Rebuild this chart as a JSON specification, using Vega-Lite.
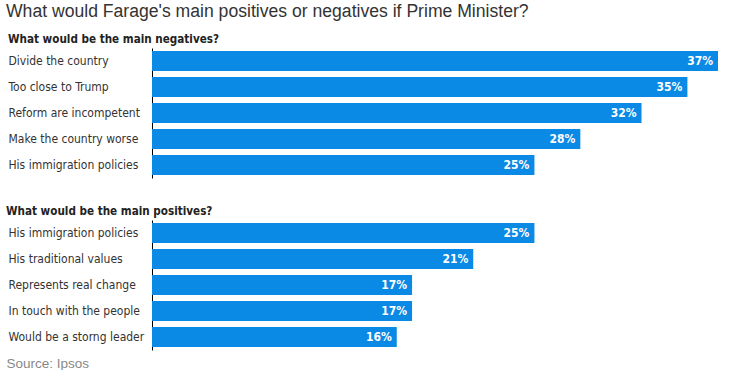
{
  "$schema": "https://vega.github.io/schema/vega-lite/v6.json",
  "padding": {"left": 6, "top": 2, "right": 0, "bottom": 0},
  "background": "white",
  "title": {
    "text": "What would Farage's main positives or negatives if Prime Minister?",
    "anchor": "start",
    "fontSize": 17.6,
    "font": "Liberation Sans",
    "fontWeight": "normal",
    "color": "#333333",
    "offset": 14
  },
  "data": {
    "values": [
      {"group": "neg", "label": "Divide the country", "value": 0.37},
      {"group": "neg", "label": "Too close to Trump", "value": 0.35},
      {"group": "neg", "label": "Reform are incompetent", "value": 0.32},
      {"group": "neg", "label": "Make the country worse", "value": 0.28},
      {"group": "neg", "label": "His immigration policies", "value": 0.25},
      {"group": "pos", "label": "His immigration policies", "value": 0.25},
      {"group": "pos", "label": "His traditional values", "value": 0.21},
      {"group": "pos", "label": "Represents real change", "value": 0.17},
      {"group": "pos", "label": "In touch with the people", "value": 0.17},
      {"group": "pos", "label": "Would be a storng leader", "value": 0.16}
    ]
  },
  "spacing": 28,
  "vconcat": [
    {
      "title": {"text": "What would be the main negatives?"},
      "transform": [{"filter": "datum.group == 'neg'"}],
      "width": 566,
      "height": {"step": 26},
      "encoding": {
        "y": {
          "field": "label", "type": "nominal", "sort": null,
          "scale": {"paddingInner": 0.23, "paddingOuter": 0.115},
          "axis": {"title": null}
        },
        "x": {
          "field": "value", "type": "quantitative",
          "scale": {"domain": [0, 0.37], "nice": false},
          "axis": null
        }
      },
      "layer": [
        {"mark": {"type": "bar", "color": "#0a89e5"}},
        {
          "mark": {"type": "text", "align": "right", "dx": -5, "color": "white", "fontWeight": "bold", "font": "DejaVu Sans Condensed, Roboto", "fontSize": 12},
          "encoding": {"text": {"field": "value", "type": "quantitative", "format": ".0%"}}
        }
      ]
    },
    {
      "title": {"text": "What would be the main positives?"},
      "transform": [{"filter": "datum.group == 'pos'"}],
      "width": 566,
      "height": {"step": 26},
      "encoding": {
        "y": {
          "field": "label", "type": "nominal", "sort": null,
          "scale": {"paddingInner": 0.23, "paddingOuter": 0.115},
          "axis": {"title": null}
        },
        "x": {
          "field": "value", "type": "quantitative",
          "scale": {"domain": [0, 0.37], "nice": false},
          "axis": {
            "title": "Source: Ipsos",
            "labels": false, "ticks": false, "domain": false, "grid": false,
            "titleAnchor": "start", "titleAlign": "left", "titleX": -146, "titleY": 17,
            "titleBaseline": "alphabetic",
            "titleFont": "Liberation Sans", "titleFontSize": 13.5, "titleFontWeight": "normal", "titleColor": "#888888"
          }
        }
      },
      "layer": [
        {"mark": {"type": "bar", "color": "#0a89e5"}},
        {
          "mark": {"type": "text", "align": "right", "dx": -5, "color": "white", "fontWeight": "bold", "font": "DejaVu Sans Condensed, Roboto", "fontSize": 12},
          "encoding": {"text": {"field": "value", "type": "quantitative", "format": ".0%"}}
        }
      ]
    }
  ],
  "config": {
    "view": {"stroke": null},
    "axisY": {
      "domain": true, "domainColor": "#000000", "domainWidth": 1,
      "ticks": false, "grid": false,
      "labelAlign": "left", "labelPadding": 144, "labelLimit": 200,
      "labelFont": "DejaVu Sans Condensed, Roboto", "labelFontSize": 12, "labelColor": "#333333"
    },
    "title": {
      "anchor": "start",
      "font": "DejaVu Sans Condensed, Roboto",
      "fontSize": 11.6,
      "fontWeight": "bold",
      "color": "#222222",
      "offset": 2
    }
  }
}
